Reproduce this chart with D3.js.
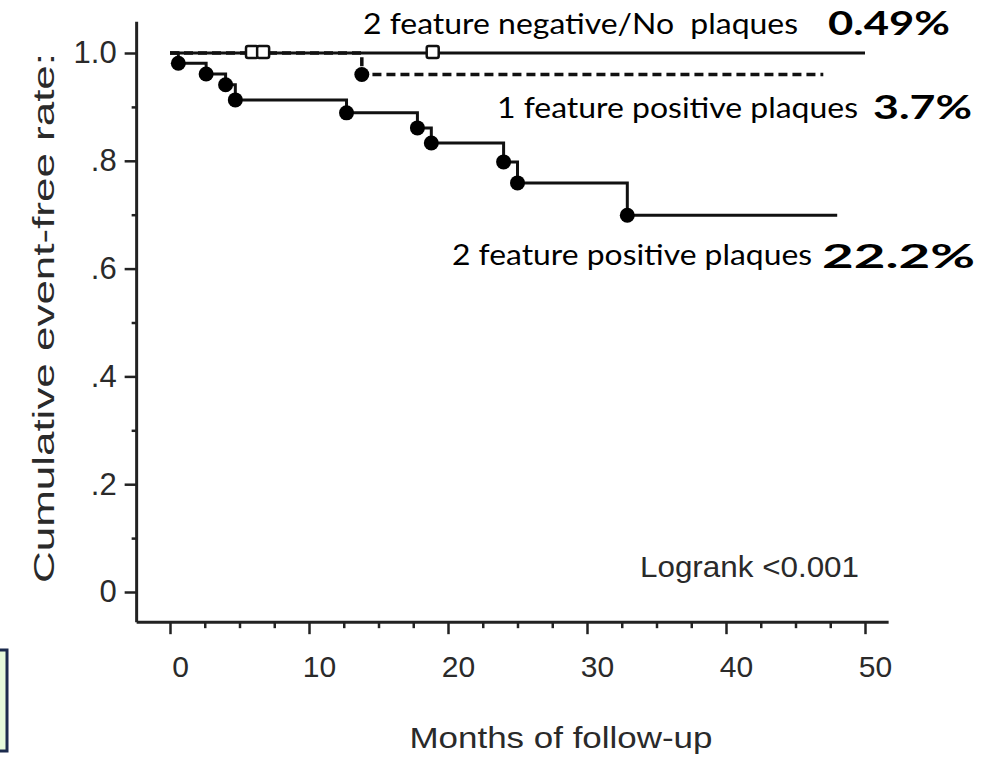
<!DOCTYPE html>
<html>
<head>
<meta charset="utf-8">
<script src="https://cdn.jsdelivr.net/npm/d3@7"></script>
<style>
  body { margin: 0; background: #fff; }
  svg { display: block; }
  .tick text { font-family: "Liberation Sans", Arial, sans-serif; }
</style>
</head>
<body>
<div id="chart"></div>
<script>
// axis ticks
var xTicks = [0, 10, 20, 30, 40, 50];
var xMinor = [2.5, 5, 7.5, 12.5, 15, 17.5, 22.5, 25, 27.5, 32.5, 35, 37.5, 42.5, 45, 47.5];
var yTicks = [0, 0.2, 0.4, 0.6, 0.8, 1.0];
var yTickLabels = ["0", ".2", ".4", ".6", ".8", "1.0"];
var yMinor = [0.1, 0.3, 0.5, 0.7, 0.9];

// group labels + event rates
var groupLabels = ["2 feature negative/No  plaques", "1 feature positive plaques", "2 feature positive plaques"];
var groupRates = ["0.49%", "3.7%", "22.2%"];

// Kaplan-Meier steps: [month, survival] at each event
var negEvents = [];
var negEnd = 50;
var negCensor = [5.9, 18.9];

var onePosEvents = [[13.8, 0.96]];
var onePosEnd = 47;
var onePosCensor = [6.7];

var twoPosEvents = [[0.6, 0.981], [2.6, 0.961], [4.0, 0.941], [4.7, 0.913], [12.7, 0.889],
                    [17.8, 0.861], [18.8, 0.833], [24.0, 0.798], [25.0, 0.759], [32.9, 0.699]];
var twoPosEnd = 48;

var width = 986, height = 759;

var x = d3.scaleLinear().domain([0, 50]).range([170, 865]);
var y = d3.scaleLinear().domain([0, 1]).range([592, 53]);

var svg = d3.select("#chart").append("svg")
    .attr("width", width)
    .attr("height", height);

svg.append("rect").attr("width", width).attr("height", height).attr("fill", "#fff");

// small boxed note cut off at the left edge
svg.append("rect")
    .attr("x", -6).attr("y", 650)
    .attr("width", 13).attr("height", 101)
    .attr("fill", "#e6fadb")
    .attr("stroke", "#1c2b4d")
    .attr("stroke-width", 3);

// axes
var axisX0 = x(-2.4), axisX1 = x(51.7);
var axisY0 = y(-0.056), axisY1 = y(1.058);

var xAxis = d3.axisBottom(x).tickValues(xTicks).tickSize(12).tickPadding(22)
    .tickFormat(d3.format("d"));
var gx = svg.append("g").attr("transform", "translate(0," + axisY0 + ")").call(xAxis);
gx.select(".domain").remove();
gx.selectAll(".tick line").attr("stroke", "#222").attr("stroke-width", 2.5);
gx.selectAll(".tick text").attr("font-size", 30).attr("dx", 10).attr("fill", "#2a2a2a");

var xMinorAxis = d3.axisBottom(x).tickValues(xMinor).tickSize(6).tickFormat("");
var gxm = svg.append("g").attr("transform", "translate(0," + axisY0 + ")").call(xMinorAxis);
gxm.select(".domain").remove();
gxm.selectAll(".tick line").attr("stroke", "#222").attr("stroke-width", 2.5);

var yAxis = d3.axisLeft(y).tickValues(yTicks).tickSize(12).tickPadding(8)
    .tickFormat(function(d, i) { return yTickLabels[i]; });
var gy = svg.append("g").attr("transform", "translate(" + axisX0 + ",0)").call(yAxis);
gy.select(".domain").remove();
gy.selectAll(".tick line").attr("stroke", "#222").attr("stroke-width", 2.5);
gy.selectAll(".tick text").attr("font-size", 31).attr("fill", "#2a2a2a");

var yMinorAxis = d3.axisLeft(y).tickValues(yMinor).tickSize(5).tickFormat("");
var gym = svg.append("g").attr("transform", "translate(" + axisX0 + ",0)").call(yMinorAxis);
gym.select(".domain").remove();
gym.selectAll(".tick line").attr("stroke", "#222").attr("stroke-width", 2.5);

svg.append("line")
    .attr("x1", axisX0).attr("x2", axisX1).attr("y1", axisY0).attr("y2", axisY0)
    .attr("stroke", "#222").attr("stroke-width", 3);
svg.append("line")
    .attr("x1", axisX0).attr("x2", axisX0).attr("y1", axisY1).attr("y2", axisY0)
    .attr("stroke", "#222").attr("stroke-width", 3);

// axis titles
svg.append("text")
    .attr("x", 561).attr("y", 748)
    .attr("text-anchor", "middle")
    .attr("font-family", "Liberation Sans, Arial, sans-serif")
    .attr("font-size", 29)
    .attr("fill", "#2a2a2a")
    .attr("textLength", 303).attr("lengthAdjust", "spacingAndGlyphs")
    .text("Months of follow-up");

svg.append("text")
    .attr("transform", "translate(54,318) rotate(-90)")
    .attr("text-anchor", "middle")
    .attr("font-family", "Liberation Sans, Arial, sans-serif")
    .attr("font-size", 30)
    .attr("fill", "#2a2a2a")
    .attr("textLength", 530).attr("lengthAdjust", "spacingAndGlyphs")
    .text("Cumulative event-free rate:");

// step curves
function steps(events, end) {
    var pts = [[0, 1]];
    var last = 1;
    events.forEach(function(e) { pts.push(e); last = e[1]; });
    pts.push([end, last]);
    return pts;
}

var line = d3.line()
    .x(function(d) { return x(d[0]); })
    .y(function(d) { return y(d[1]); })
    .curve(d3.curveStepAfter);

var g = svg.append("g");

g.append("path")
    .datum(steps(onePosEvents, onePosEnd))
    .attr("d", line)
    .attr("fill", "none")
    .attr("stroke", "#111")
    .attr("stroke-width", 3.5)
    .attr("stroke-dasharray", "9,5");

g.append("path")
    .datum(steps(negEvents, negEnd))
    .attr("d", line)
    .attr("fill", "none")
    .attr("stroke", "#111")
    .attr("stroke-width", 3);

g.append("path")
    .datum(steps(twoPosEvents, twoPosEnd))
    .attr("d", line)
    .attr("fill", "none")
    .attr("stroke", "#111")
    .attr("stroke-width", 3);

// event markers
g.selectAll(".ev2").data(twoPosEvents).enter().append("circle")
    .attr("class", "ev2")
    .attr("cx", function(d) { return x(d[0]); })
    .attr("cy", function(d) { return y(d[1]); })
    .attr("r", 7.5)
    .attr("fill", "#000");

g.selectAll(".ev1").data(onePosEvents).enter().append("circle")
    .attr("class", "ev1")
    .attr("cx", function(d) { return x(d[0]); })
    .attr("cy", function(d) { return y(d[1]); })
    .attr("r", 7.5)
    .attr("fill", "#000");

// censor markers (open squares)
var censors = negCensor.map(function(t) { return [t, 1]; })
    .concat(onePosCensor.map(function(t) { return [t, 1]; }));
g.selectAll(".cens").data(censors).enter().append("rect")
    .attr("class", "cens")
    .attr("x", function(d) { return x(d[0]) - 6; })
    .attr("y", function(d) { return y(d[1]) - 7; })
    .attr("width", 12).attr("height", 12)
    .attr("rx", 2)
    .attr("fill", "#fff")
    .attr("stroke", "#111")
    .attr("stroke-width", 2.5);

// group annotations
var labelPos = [{x: 363, y: 34, w: 435}, {x: 497, y: 118, w: 361}, {x: 452, y: 265, w: 360}];
var ratePos = [{x: 828, y: 35, w: 122}, {x: 873, y: 119, w: 99}, {x: 822, y: 268, w: 153}];

svg.selectAll(".glabel").data(groupLabels).enter().append("text")
    .attr("class", "glabel")
    .attr("x", function(d, i) { return labelPos[i].x; })
    .attr("y", function(d, i) { return labelPos[i].y; })
    .attr("font-family", "Lato, 'Open Sans', sans-serif")
    .attr("font-size", 28)
    .attr("fill", "#000")
    .style("white-space", "pre")
    .attr("textLength", function(d, i) { return labelPos[i].w; })
    .attr("lengthAdjust", "spacingAndGlyphs")
    .text(function(d) { return d; });

svg.selectAll(".grate").data(groupRates).enter().append("text")
    .attr("class", "grate")
    .attr("x", function(d, i) { return ratePos[i].x; })
    .attr("y", function(d, i) { return ratePos[i].y; })
    .attr("font-family", "Lato, 'Open Sans', sans-serif")
    .attr("font-weight", "bold")
    .attr("font-size", 33)
    .attr("fill", "#000")
    .attr("textLength", function(d, i) { return ratePos[i].w; })
    .attr("lengthAdjust", "spacingAndGlyphs")
    .text(function(d) { return d; });

svg.append("text")
    .attr("x", 640).attr("y", 577)
    .attr("font-family", "Liberation Sans, Arial, sans-serif")
    .attr("font-size", 29)
    .attr("fill", "#2a2a2a")
    .attr("textLength", 219).attr("lengthAdjust", "spacingAndGlyphs")
    .text("Logrank <0.001");
</script>
</body>
</html>
